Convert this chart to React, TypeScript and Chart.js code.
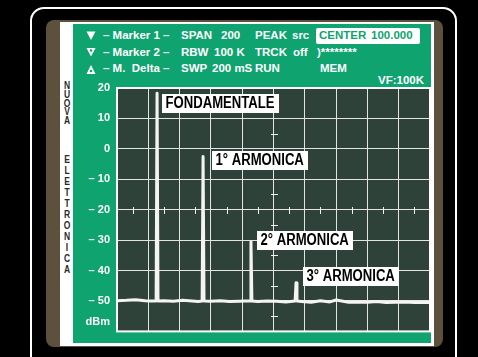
import React, { useEffect, useRef } from "react";
import { Chart, registerables } from "chart.js";

Chart.register(...registerables);

// ---- data ----
const yTicks = [20, 10, 0, -10, -20, -30, -40, -50, -60];
const noiseX = [0, 0.3, 0.6, 0.9, 1.1, 1.5, 1.8, 2.1, 2.4, 2.6, 3.0, 3.3, 3.6, 3.9, 4.1, 4.5, 4.8, 5.1, 5.4, 5.9, 6.2, 6.5, 6.8, 7.0, 7.4, 7.7, 8.0, 8.3, 8.6, 8.9, 9.2, 9.5, 9.8, 10];
const noiseY = [-49.9, -49.8, -49.6, -49.9, -50.0, -49.9, -50.1, -49.8, -50.0, -50.2, -50.1, -49.9, -50.2, -50.1, -50.0, -50.2, -50.0, -50.1, -50.3, -50.2, -50.4, -49.9, -50.3, -49.7, -50.4, -50.3, -50.4, -50.2, -50.5, -50.4, -50.3, -50.5, -50.4, -50.5];
const peakX = [1.28, 2.75, 4.28, 5.72];
const peakY = [18.3, -2.5, -30.5, -44];
const peakBase = -50;
const peakNames = ["FONDAMENTALE", "1° ARMONICA", "2° ARMONICA", "3° ARMONICA"];
const vertWord1 = "NUOVA";
const vertWord2 = "ELETTRONICA";

const GREEN = "#0fa36f";
const PLOT_BG = "#2e4239";
const BROWN = "#5d513d";

function buildTrace() {
  const pts: { x: number; y: number }[] = noiseX.map((x, i) => ({ x, y: noiseY[i] }));
  peakX.forEach((px, i) => {
    pts.push({ x: px - 0.03, y: peakBase });
    pts.push({ x: px, y: peakY[i] });
    pts.push({ x: px + 0.03, y: peakBase });
  });
  pts.sort((a, b) => a.x - b.x);
  return pts;
}

const labelOffsets = [
  [5, 1],
  [9, -5],
  [6, -11],
  [7, -16],
];
const SQUEEZE = 0.82;

const decorPlugin = {
  id: "decor",
  beforeDraw(chart: any) {
    const { ctx, chartArea: a } = chart;
    ctx.save();
    ctx.fillStyle = PLOT_BG;
    ctx.fillRect(a.left, a.top, a.right - a.left, a.bottom - a.top);
    ctx.restore();
  },
  beforeDatasetsDraw(chart: any) {
    const { ctx, scales } = chart;
    const xs = scales.x;
    const ys = scales.y;
    ctx.save();
    ctx.strokeStyle = "#f0f0f0";
    ctx.lineWidth = 1;
    const cx = Math.round(xs.getPixelForValue(5)) + 0.5;
    for (let v = -55; v < 20; v += 10) {
      const py = Math.round(ys.getPixelForValue(v)) + 0.5;
      ctx.beginPath();
      ctx.moveTo(cx - 3.5, py);
      ctx.lineTo(cx + 3.5, py);
      ctx.stroke();
    }
    const cy = Math.round(ys.getPixelForValue(-20)) + 0.5;
    for (let v = 0.5; v < 10; v += 1) {
      const px = Math.round(xs.getPixelForValue(v)) + 0.5;
      ctx.beginPath();
      ctx.moveTo(px, cy - 3.5);
      ctx.lineTo(px, cy + 3.5);
      ctx.stroke();
    }
    ctx.restore();
  },
  afterDatasetsDraw(chart: any) {
    const { ctx, scales } = chart;
    const xs = scales.x;
    const ys = scales.y;
    ctx.save();
    ctx.font = 'bold 16px "Liberation Sans", Arial, sans-serif';
    ctx.textBaseline = "middle";
    ctx.textAlign = "left";
    peakNames.forEach((name, i) => {
      const px = xs.getPixelForValue(peakX[i]);
      const py = ys.getPixelForValue(peakY[i]);
      const bx = Math.round(px + labelOffsets[i][0]);
      const by = Math.round(py + labelOffsets[i][1]);
      const tw = ctx.measureText(name).width * SQUEEZE;
      const w = Math.ceil(tw) + 7;
      ctx.fillStyle = "#ffffff";
      ctx.fillRect(bx, by, w, 19);
      ctx.save();
      ctx.translate(bx + 3.5, by + 10);
      ctx.scale(SQUEEZE, 1);
      ctx.fillStyle = "#000000";
      ctx.fillText(name, 0, 0);
      ctx.restore();
    });
    ctx.restore();
  },
  afterDraw(chart: any) {
    const { ctx, chartArea: a, scales } = chart;
    ctx.save();
    ctx.strokeStyle = "#ffffff";
    ctx.lineWidth = 2;
    ctx.strokeRect(a.left, a.top, a.right - a.left, a.bottom - a.top);
    ctx.fillStyle = "#ffffff";
    ctx.font = 'bold 11px "Liberation Sans", Arial, sans-serif';
    ctx.textAlign = "right";
    ctx.textBaseline = "middle";
    ctx.fillText("dBm", a.left - 7, scales.y.getPixelForValue(-57));
    ctx.restore();
  },
};

function fmtTick(v: number) {
  if (v === -60) return "";
  if (v < 0) return "\u2013 " + Math.abs(v);
  return String(v);
}

function TraceChart() {
  const ref = useRef<HTMLCanvasElement | null>(null);
  useEffect(() => {
    if (!ref.current) return;
    const chart = new Chart(ref.current, {
      type: "line",
      data: {
        datasets: [
          {
            data: buildTrace(),
            borderColor: "#f4f4f4",
            borderWidth: 3,
            pointRadius: 0,
            tension: 0,
            borderJoinStyle: "round",
            borderCapStyle: "round",
          } as any,
        ],
      },
      plugins: [decorPlugin],
      options: {
        animation: false,
        responsive: false,
        maintainAspectRatio: false,
        layout: { padding: { left: 0, top: 64, right: 1, bottom: 2 } },
        plugins: { legend: { display: false }, tooltip: { enabled: false } },
        scales: {
          x: {
            type: "linear",
            min: 0,
            max: 10,
            ticks: { display: false, stepSize: 1 },
            grid: { color: "#e4e4e4", lineWidth: 1, drawTicks: false },
            border: { display: false },
            afterFit: (s: any) => {
              s.height = 0;
            },
          },
          y: {
            type: "linear",
            min: -60,
            max: 20,
            afterBuildTicks: (s: any) => {
              s.ticks = yTicks.map((v) => ({ value: v }));
            },
            ticks: {
              color: "#ffffff",
              padding: 7,
              font: { family: '"Liberation Sans", Arial, sans-serif', weight: "bold", size: 11 },
              callback: (v: any) => fmtTick(Number(v)),
            },
            grid: { color: "#e4e4e4", lineWidth: 1, drawTicks: false },
            border: { display: false },
            afterFit: (s: any) => {
              s.width = 44;
            },
          },
        },
      } as any,
    });
    return () => chart.destroy();
  }, []);
  return (
    <canvas
      ref={ref}
      width={358}
      height={321}
      style={{ position: "absolute", left: 73, top: 24, width: 358, height: 321 }}
    />
  );
}

const txt = (left: number, top: number, s: string, extra: any = {}) => (
  <span
    key={s + left + top}
    style={{
      position: "absolute",
      left,
      top,
      color: "#fff",
      fontWeight: "bold",
      fontSize: 11.5,
      lineHeight: "13px",
      whiteSpace: "pre",
      ...extra,
    }}
  >
    {s}
  </span>
);

export default function App() {
  return (
    <div
      style={{
        position: "fixed",
        left: 0,
        top: 0,
        width: 478,
        height: 357,
        background: "#000",
        overflow: "hidden",
        fontFamily: '"Liberation Sans", Arial, sans-serif',
      }}
    >
      <div style={{ position: "absolute", left: 30, top: 7, width: 423, height: 380, border: "2px solid #fff", borderRadius: 14 }} />
      <div style={{ position: "absolute", left: 46, top: 20, width: 397, height: 327, background: BROWN, borderRadius: 8 }} />
      <div style={{ position: "absolute", left: 60, top: 22, width: 374, height: 324, background: "#fff" }} />
      <div style={{ position: "absolute", left: 73, top: 24, width: 358, height: 319, background: GREEN }} />

      {vertWord1.split("").map((c, i) => (
        <span
          key={"a" + i}
          style={{
            position: "absolute",
            left: 61,
            width: 12,
            textAlign: "center",
            top: 81 + i * 8.8,
            fontSize: 10,
            lineHeight: "10px",
            fontWeight: "bold",
            color: "#2a2a2a",
            transform: "scaleX(0.85)",
          }}
        >
          {c}
        </span>
      ))}
      {vertWord2.split("").map((c, i) => (
        <span
          key={"b" + i}
          style={{
            position: "absolute",
            left: 61,
            width: 12,
            textAlign: "center",
            top: 155 + i * 11,
            fontSize: 10,
            lineHeight: "10px",
            fontWeight: "bold",
            color: "#2a2a2a",
            transform: "scaleX(0.85)",
          }}
        >
          {c}
        </span>
      ))}

      <svg style={{ position: "absolute", left: 86, top: 31, width: 10, height: 45 }} viewBox="0 0 10 45">
        <polygon points="0.5,0.5 9.5,0.5 5,9" fill="#fff" />
        <polygon points="0.5,17 9.5,17 5,25.5" fill="#fff" />
        <circle cx="5" cy="19.5" r="1.3" fill={GREEN} />
        <polygon points="5,34 9.5,43 0.5,43" fill="#fff" />
        <circle cx="5" cy="40" r="1.3" fill={GREEN} />
      </svg>

      {txt(103, 29, "\u2013 Marker 1 \u2013")}
      {txt(181, 29, "SPAN")}
      {txt(221, 29, "200")}
      {txt(255, 29, "PEAK")}
      {txt(292, 29, "src")}
      <div style={{ position: "absolute", left: 316, top: 28, width: 104, height: 16, background: "#fff", borderRadius: 2 }} />
      {txt(319, 29, "CENTER", { color: GREEN })}
      {txt(371, 29, "100.000", { color: GREEN })}

      {txt(103, 46, "\u2013 Marker 2 \u2013")}
      {txt(181, 46, "RBW")}
      {txt(214, 46, "100 K")}
      {txt(255, 46, "TRCK")}
      {txt(293, 46, "off")}
      {txt(317, 46, ")********")}

      {txt(103, 62, "\u2013 M.  Delta \u2013")}
      {txt(181, 62, "SWP")}
      {txt(212, 62, "200 mS")}
      {txt(255, 62, "RUN")}
      {txt(320, 62, "MEM")}

      {txt(366, 74, "VF:100K", { width: 58, textAlign: "right" })}

      <TraceChart />
    </div>
  );
}
